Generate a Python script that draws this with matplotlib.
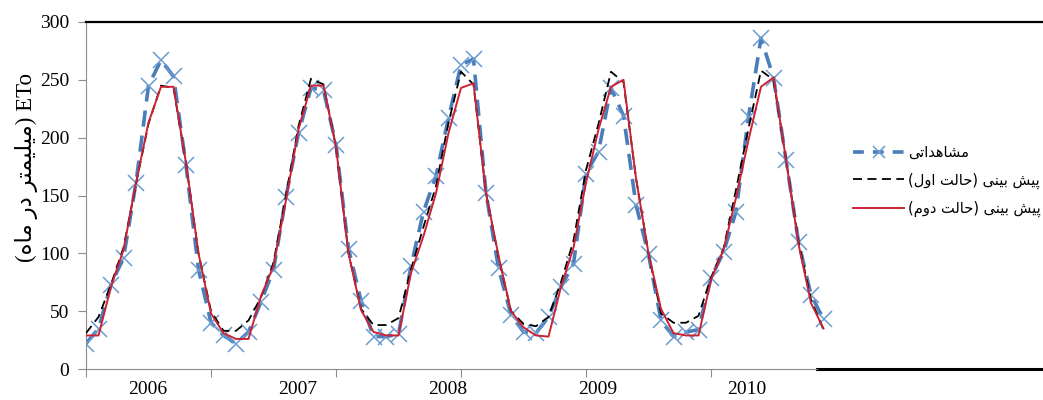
import numpy as np
import matplotlib
matplotlib.use("Agg")
import matplotlib.pyplot as plt
from matplotlib.lines import Line2D

# monthly ETo, Jan 2006 .. Dec 2010
observed = [22, 35, 73, 96, 161, 245, 267, 253, 176, 86, 40, 29,
            22, 32, 58, 86, 149, 204, 243, 241, 194, 104, 59, 28,
            28, 30, 89, 136, 167, 217, 263, 268, 152, 87, 47, 32,
            31, 45, 71, 91, 169, 188, 243, 219, 142, 99, 42, 28,
            32, 34, 79, 101, 136, 218, 286, 252, 181, 110, 64, 43]
pred_case1 = [31, 45, 73, 105, 160, 212, 245, 243, 178, 100, 50, 33,
              33, 42, 62, 92, 150, 210, 251, 246, 192, 100, 52, 38,
              38, 44, 86, 123, 158, 213, 257, 246, 152, 97, 50, 39,
              37, 45, 75, 111, 172, 212, 257, 248, 165, 100, 48, 40,
              40, 46, 79, 104, 155, 208, 258, 250, 181, 110, 60, 34]
pred_case2 = [29, 29, 71, 103, 161, 213, 244, 244, 178, 100, 48, 31,
              26, 26, 63, 89, 146, 207, 245, 245, 192, 100, 51, 32,
              29, 29, 83, 115, 152, 204, 243, 247, 152, 98, 50, 36,
              29, 28, 71, 105, 161, 207, 244, 250, 165, 100, 52, 31,
              29, 29, 77, 103, 148, 198, 244, 252, 181, 108, 57, 35]
years = ["2006", "2007", "2008", "2009", "2010"]
y_ticks = [0, 50, 100, 150, 200, 250, 300]

# --- minimal arabic/persian shaping (matplotlib does no bidi / joining) ---
FORMS = {  # isolated, final, initial, medial
    "\u0627": ("\uFE8D", "\uFE8E", None, None),        # alef
    "\u0628": ("\uFE8F", "\uFE90", "\uFE91", "\uFE92"),  # beh
    "\u062A": ("\uFE95", "\uFE96", "\uFE97", "\uFE98"),  # teh
    "\u062D": ("\uFEA1", "\uFEA2", "\uFEA3", "\uFEA4"),  # hah
    "\u062F": ("\uFEA9", "\uFEAA", None, None),        # dal
    "\u0631": ("\uFEAD", "\uFEAE", None, None),        # reh
    "\u0634": ("\uFEB5", "\uFEB6", "\uFEB7", "\uFEB8"),  # sheen
    "\u0644": ("\uFEDD", "\uFEDE", "\uFEDF", "\uFEE0"),  # lam
    "\u0645": ("\uFEE1", "\uFEE2", "\uFEE3", "\uFEE4"),  # meem
    "\u0646": ("\uFEE5", "\uFEE6", "\uFEE7", "\uFEE8"),  # noon
    "\u0647": ("\uFEE9", "\uFEEA", "\uFEEB", "\uFEEC"),  # heh
    "\u0648": ("\uFEED", "\uFEEE", None, None),        # waw
    "\u06CC": ("\uFBFC", "\uFBFD", "\uFBFE", "\uFBFF"),  # farsi yeh
    "\u067E": ("\uFB56", "\uFB57", "\uFB58", "\uFB59"),  # peh
}


def shape_word(word):
    """Return the word in joined presentation forms, visual (left-to-right) order."""
    out = []
    for k, ch in enumerate(word):
        iso, fin, ini, med = FORMS[ch]
        prev_join = k > 0 and FORMS[word[k - 1]][2] is not None
        next_join = ini is not None and k < len(word) - 1
        if prev_join and next_join:
            out.append(med)
        elif prev_join:
            out.append(fin)
        elif next_join:
            out.append(ini)
        else:
            out.append(iso)
    return "".join(reversed(out))


def rtl(text):
    """Visual order for a plain RTL phrase (words only)."""
    return " ".join(shape_word(w) for w in reversed(text.split()))


ylabel_txt = "(" + rtl("میلیمتر در ماه") + ") ETo"
leg_obs = rtl("مشاهداتی")
leg_case1 = "(" + rtl("حالت اول") + ") " + rtl("پیش بینی")
leg_case2 = "(" + rtl("حالت دوم") + ") " + rtl("پیش بینی")

SERIF = ["Liberation Serif", "DejaVu Serif"]
ARAB = ["DejaVu Sans"]
BLUE = "#4A7EBB"
RED = "#CC2233"

fig = plt.figure(figsize=(10.43, 4.0), dpi=100)
ax = fig.add_axes([86 / 1043, 31 / 400, 1 - 86 / 1043, 347 / 400])

months = np.arange(len(observed))
ax.plot(months, observed, color=BLUE, lw=2.6, dashes=(4.5, 2.5),
        marker="x", ms=11, mew=1.1, mec="#6A9BD0", zorder=2)
ax.plot(months, pred_case1, color="black", lw=1.3, dashes=(5, 3), zorder=3)
ax.plot(months, pred_case2, color=RED, lw=1.4, zorder=4)

x_right = (1043 - 86) / 12.5
ax.set_xlim(0, x_right)
ax.set_ylim(0, 300)

# frame
ax.spines["right"].set_visible(False)
ax.spines["top"].set_color("black")
ax.spines["top"].set_linewidth(1.6)
ax.spines["left"].set_color("#8C8C8C")
ax.spines["bottom"].set_color("#8C8C8C")
ax.spines["bottom"].set_bounds(0, 58.5)
ax.axhline(0, xmin=58.5 / x_right, xmax=1, color="black", lw=2.2, clip_on=False)

ax.set_yticks(y_ticks)
ax.set_yticklabels([str(v) for v in y_ticks], family=SERIF, fontsize=14)
ax.tick_params(axis="y", direction="out", length=6, color="#8C8C8C", pad=6)

ax.set_xticks(np.arange(0, 60, 10))
ax.set_xticklabels([])
ax.set_xticks([4.9 + 12 * k for k in range(len(years))], minor=True)
ax.set_xticklabels(years, minor=True, family=SERIF, fontsize=14)
ax.tick_params(axis="x", which="major", direction="out", length=6, color="#8C8C8C")
ax.tick_params(axis="x", which="minor", length=0, pad=9)

fig.text(27 / 1043, 1 - 168 / 400, ylabel_txt, rotation=90, ha="center", va="center",
         family=SERIF + ARAB, fontsize=16.5)

# legend
handles = [
    Line2D([], [], color=BLUE, lw=2.6, dashes=(3, 2.5), marker="x", ms=8,
           mew=1.1, mec="#6A9BD0"),
    Line2D([], [], color="black", lw=1.3, dashes=(5, 3)),
    Line2D([], [], color=RED, lw=1.4),
]
ax.legend(handles, [leg_obs, leg_case1, leg_case2], loc="upper left",
          bbox_to_anchor=(853 / 1043, 1 - 145 / 400),
          bbox_transform=fig.transFigure, frameon=False, handlelength=3.5,
          handletextpad=0.3, labelspacing=0.85, borderaxespad=0, borderpad=0,
          prop={"family": ARAB, "size": 10.5})

fig.savefig("out.png", dpi=100)
